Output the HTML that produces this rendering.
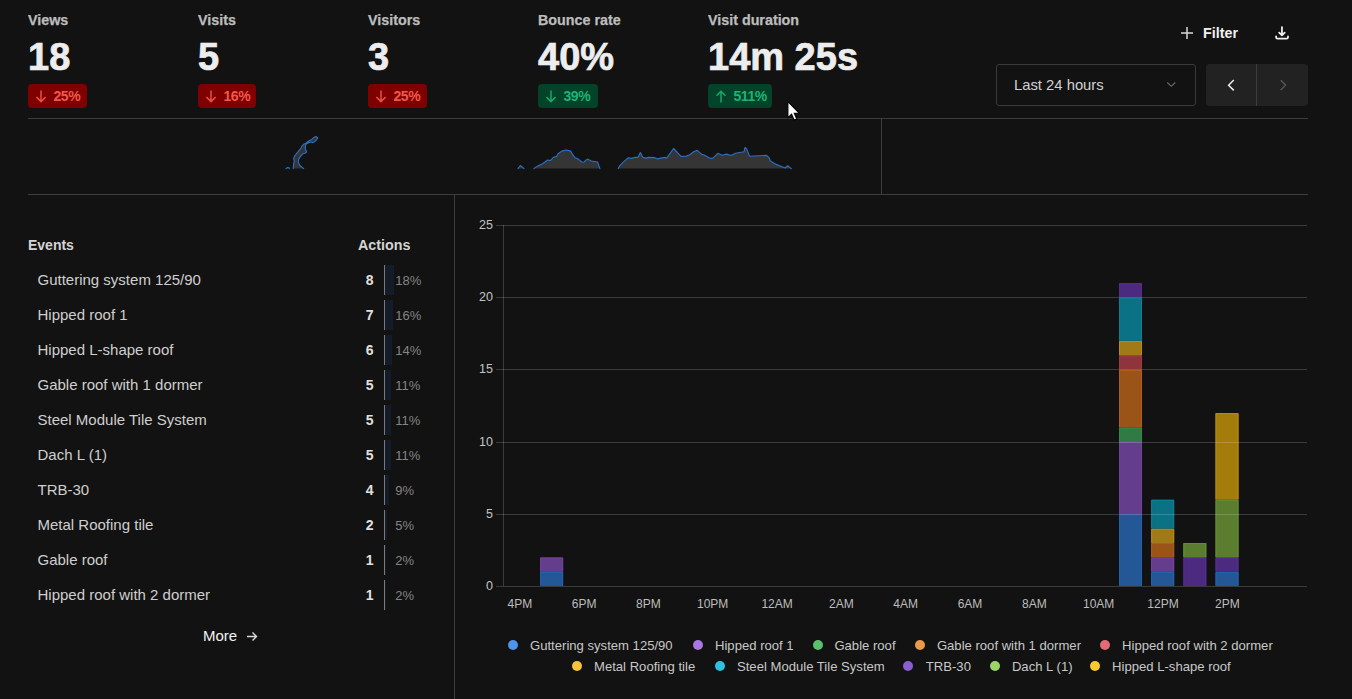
<!DOCTYPE html>
<html><head><meta charset="utf-8">
<style>
html,body{margin:0;padding:0;background:#121212;width:1352px;height:699px;overflow:hidden;}
body{font-family:"Liberation Sans",sans-serif;position:relative;color:#e5e5e5;}
.a{position:absolute;white-space:nowrap;}
.lbl{font-size:14.3px;font-weight:700;color:#bdbdbd;line-height:14px;-webkit-text-stroke:0.25px #bdbdbd;}
.val{font-size:38px;font-weight:700;color:#ededed;line-height:38px;-webkit-text-stroke:0.7px #ededed;}
.badge{position:absolute;top:84px;height:24px;border-radius:4px;}
.badge.r{background:#7f0000;color:#f0584a;}
.badge.g{background:#03432a;color:#1db374;}
.badge svg{position:absolute;top:5.6px;}
.badge span{position:absolute;top:5px;font-size:14px;font-weight:700;line-height:14px;letter-spacing:-0.45px;}
.hl{position:absolute;height:1px;background:#3d3d3d;}
.vl{position:absolute;width:1px;background:#3d3d3d;}
.ev{font-size:15px;color:#cfcfcf;line-height:15px;}
.num{font-size:14px;font-weight:700;color:#e0e0e0;line-height:14px;}
.pct{font-size:13px;color:#848484;line-height:13px;}
.bar{position:absolute;height:30px;background:#131c28;}
.bl{position:absolute;width:1px;height:30px;background:#7a7a7a;}
.yl{font-size:12.5px;color:#c4c4c4;line-height:13px;text-align:right;}
.xl{font-size:12px;color:#bdbdbd;line-height:12px;}
.lg{font-size:13.1px;color:#c8c8c8;line-height:13px;}
.dot{position:absolute;width:10px;height:10px;border-radius:50%;}
</style></head><body>

<!-- stats -->
<div class="a lbl" style="left:28px;top:13px">Views</div>
<div class="a lbl" style="left:198px;top:13px">Visits</div>
<div class="a lbl" style="left:368px;top:13px">Visitors</div>
<div class="a lbl" style="left:538px;top:13px">Bounce rate</div>
<div class="a lbl" style="left:708px;top:13px">Visit duration</div>

<div class="a val" style="left:28px;top:38.4px">18</div>
<div class="a val" style="left:198px;top:38.4px">5</div>
<div class="a val" style="left:368px;top:38.4px">3</div>
<div class="a val" style="left:538px;top:38.4px">40%</div>
<div class="a val" style="left:708px;top:38.4px">14m 25s</div>

<div class="badge r" style="left:28px;width:59px"><svg style="left:8px" width="10" height="13" viewBox="0 0 10 13"><path d="M5 0.6V11.6M0.5 7.1L5 11.6L9.5 7.1" fill="none" stroke="#e8503f" stroke-width="1.5"/></svg><span style="left:25.5px">25%</span></div>
<div class="badge r" style="left:198px;width:58px"><svg style="left:8px" width="10" height="13" viewBox="0 0 10 13"><path d="M5 0.6V11.6M0.5 7.1L5 11.6L9.5 7.1" fill="none" stroke="#e8503f" stroke-width="1.5"/></svg><span style="left:25.5px">16%</span></div>
<div class="badge r" style="left:368px;width:59px"><svg style="left:8px" width="10" height="13" viewBox="0 0 10 13"><path d="M5 0.6V11.6M0.5 7.1L5 11.6L9.5 7.1" fill="none" stroke="#e8503f" stroke-width="1.5"/></svg><span style="left:25.5px">25%</span></div>
<div class="badge g" style="left:538px;width:60px"><svg style="left:8px" width="10" height="13" viewBox="0 0 10 13"><path d="M5 0.6V11.6M0.5 7.1L5 11.6L9.5 7.1" fill="none" stroke="#17a86a" stroke-width="1.5"/></svg><span style="left:25.5px">39%</span></div>
<div class="badge g" style="left:708px;width:64px"><svg style="left:8px" width="10" height="13" viewBox="0 0 10 13"><path d="M5 12.4V1.2M0.5 5.7L5 1.2L9.5 5.7" fill="none" stroke="#17a86a" stroke-width="1.5"/></svg><span style="left:25.5px">511%</span></div>

<!-- filter / download -->
<svg class="a" style="left:1180px;top:26px" width="14" height="14" viewBox="0 0 14 14"><path d="M7 1V13M1 7H13" stroke="#d8d8d8" stroke-width="1.5" fill="none"/></svg>
<div class="a" style="left:1203px;top:26px;font-size:14.3px;font-weight:700;color:#f0f0f0;line-height:14px">Filter</div>
<svg class="a" style="left:1274px;top:25px" width="16" height="16" viewBox="0 0 16 16"><path d="M7.95 2.1V10.2M5.2 7.6L7.95 10.4L10.7 7.6M2.1 11.3V12.2Q2.1 13.7 3.6 13.7H12.5Q14 13.7 14 12.2V11.3" stroke="#f0f0f0" stroke-width="1.8" fill="none" stroke-linecap="round" stroke-linejoin="round"/></svg>

<!-- date dropdown -->
<div class="a" style="left:996px;top:64px;width:198px;height:40px;border:1px solid #3a3a3a;border-radius:3px;"></div>
<div class="a" style="left:1014px;top:78px;font-size:14.8px;color:#d2d2d2;line-height:15px">Last 24 hours</div>
<svg class="a" style="left:1166px;top:80px" width="11" height="8" viewBox="0 0 11 8"><path d="M1.3 2.5L5.3 6.3L9.3 2.5" stroke="#6c6c6c" stroke-width="1.1" fill="none"/></svg>

<div class="a" style="left:1206px;top:64px;width:102px;height:42px;background:#222;border-radius:4px;"></div>
<div class="vl" style="left:1256px;top:64px;height:42px;background:#3e3e3e"></div>
<svg class="a" style="left:1226px;top:78px" width="12" height="14" viewBox="0 0 12 14"><path d="M7.8 2L2.6 7.2L7.8 12.4" stroke="#ececec" stroke-width="1.5" fill="none"/></svg>
<svg class="a" style="left:1277.5px;top:78px" width="12" height="14" viewBox="0 0 12 14"><path d="M2.8 2.2L7.6 7.1L2.8 12" stroke="#595959" stroke-width="1.3" fill="none"/></svg>

<!-- dividers -->
<div class="hl" style="left:28px;top:118px;width:1280px"></div>
<div class="hl" style="left:28px;top:194px;width:1280px"></div>
<div class="vl" style="left:881px;top:119px;height:75px"></div>
<div class="vl" style="left:454px;top:195px;height:504px"></div>

<!-- sparkline -->
<svg class="a" style="left:0;top:0" width="881" height="194" viewBox="0 0 881 194">
<g fill="#353535" stroke="none"><path d="M286 168.6L287.7 167.5L289.2 167.8L289.4 168.6Z"/><path d="M293.2 168.6L293.7 164L294.3 161.2L293.7 158.6L294.6 156L296.9 153.2L299.2 150.3L301.5 147.5L301.7 146.3L303.7 144.3L306 143.2L307.2 142L309.5 140.6L311.8 139.4L314 137.4L316.3 136.6L317.8 138L316.9 139.4L314.6 141.7L312.9 142.6L310.6 142L308.3 142.9L306 144L305.2 146.9L305.5 149.2L306.6 152L304.9 153.2L302.6 154L300.3 156.6L298.6 159.5L298.3 162.3L299.7 165.2L302 167.2L303.7 168.6Z"/><path d="M518 168.6L520.4 165.5L524 168.6Z"/><path d="M533.8 168.6L537.7 165.9L542.5 163.7L547.7 160L550.3 160.6L553.6 157.2L556.6 156.4L558 153.7L561.8 151.1L566.2 150L570.6 151.1L572.1 153.7L575.1 157.8L578 158.9L582.1 162.2L584 162L587.3 159.1L591.4 161.1L597.6 162L599.9 168.6Z"/><path d="M618.3 168.6L619.6 165.9L623.3 162.2L628.1 157.8L631.4 158.4L635.1 157.4L638.1 157.4L640.3 152.6L642.9 157.4L646.2 158.1L648.5 157.4L654.4 157.6L657.3 158.9L661 158.1L664.7 157.4L666.6 158.1L673.6 148.5L681 156.4L686.2 156.1L689.9 154.8L693.6 151.8L697.3 150.4L701.7 154.4L703.6 154.8L709.1 157.8L711.1 158.4L712.9 158.1L717.8 153.3L722.2 155.2L726.6 154.1L731.1 155.5L735.5 153.3L744 151.8L745.1 147.4L746.6 148.9L749.6 156.3L766.6 155.4L769.2 157.8L770.3 161.1L776.2 164.4L785.1 168L787.6 165.8L791.3 168.6Z"/></g><g fill="none" stroke="#2b6fc6" stroke-width="1.15" stroke-linejoin="round" stroke-linecap="round"><path d="M286 168.6L287.7 167.5L289.2 167.8L289.4 168.6"/><path d="M293.2 168.6L293.7 164L294.3 161.2L293.7 158.6L294.6 156L296.9 153.2L299.2 150.3L301.5 147.5L301.7 146.3L303.7 144.3L306 143.2L307.2 142L309.5 140.6L311.8 139.4L314 137.4L316.3 136.6L317.8 138L316.9 139.4L314.6 141.7L312.9 142.6L310.6 142L308.3 142.9L306 144L305.2 146.9L305.5 149.2L306.6 152L304.9 153.2L302.6 154L300.3 156.6L298.6 159.5L298.3 162.3L299.7 165.2L302 167.2L303.7 168.6"/><path d="M518 168.6L520.4 165.5L524 168.6"/><path d="M533.8 168.6L537.7 165.9L542.5 163.7L547.7 160L550.3 160.6L553.6 157.2L556.6 156.4L558 153.7L561.8 151.1L566.2 150L570.6 151.1L572.1 153.7L575.1 157.8L578 158.9L582.1 162.2L584 162L587.3 159.1L591.4 161.1L597.6 162L599.9 168.6"/><path d="M618.3 168.6L619.6 165.9L623.3 162.2L628.1 157.8L631.4 158.4L635.1 157.4L638.1 157.4L640.3 152.6L642.9 157.4L646.2 158.1L648.5 157.4L654.4 157.6L657.3 158.9L661 158.1L664.7 157.4L666.6 158.1L673.6 148.5L681 156.4L686.2 156.1L689.9 154.8L693.6 151.8L697.3 150.4L701.7 154.4L703.6 154.8L709.1 157.8L711.1 158.4L712.9 158.1L717.8 153.3L722.2 155.2L726.6 154.1L731.1 155.5L735.5 153.3L744 151.8L745.1 147.4L746.6 148.9L749.6 156.3L766.6 155.4L769.2 157.8L770.3 161.1L776.2 164.4L785.1 168L787.6 165.8L791.3 168.6"/></g>
</svg>

<!-- events table -->
<div class="a" style="left:28px;top:238px;font-size:14px;font-weight:700;color:#d4d4d4;line-height:14px">Events</div>
<div class="a" style="left:358px;top:238px;font-size:14.3px;font-weight:700;color:#d4d4d4;line-height:14px">Actions</div>

<div class="a ev" style="left:37.5px;top:272px">Guttering system 125/90</div>
<div class="a num" style="left:344px;width:29.6px;text-align:right;top:273px">8</div>
<div class="bl" style="left:384px;top:265px"></div>
<div class="bar" style="left:385px;top:265px;width:8.7px"></div>
<div class="a pct" style="left:395.3px;top:274px">18%</div>
<div class="a ev" style="left:37.5px;top:307px">Hipped roof 1</div>
<div class="a num" style="left:344px;width:29.6px;text-align:right;top:308px">7</div>
<div class="bl" style="left:384px;top:300px"></div>
<div class="bar" style="left:385px;top:300px;width:7.6px"></div>
<div class="a pct" style="left:395.3px;top:309px">16%</div>
<div class="a ev" style="left:37.5px;top:342px">Hipped L-shape roof</div>
<div class="a num" style="left:344px;width:29.6px;text-align:right;top:343px">6</div>
<div class="bl" style="left:384px;top:335px"></div>
<div class="bar" style="left:385px;top:335px;width:6.6px"></div>
<div class="a pct" style="left:395.3px;top:344px">14%</div>
<div class="a ev" style="left:37.5px;top:377px">Gable roof with 1 dormer</div>
<div class="a num" style="left:344px;width:29.6px;text-align:right;top:378px">5</div>
<div class="bl" style="left:384px;top:370px"></div>
<div class="bar" style="left:385px;top:370px;width:5.5px"></div>
<div class="a pct" style="left:395.3px;top:379px">11%</div>
<div class="a ev" style="left:37.5px;top:412px">Steel Module Tile System</div>
<div class="a num" style="left:344px;width:29.6px;text-align:right;top:413px">5</div>
<div class="bl" style="left:384px;top:405px"></div>
<div class="bar" style="left:385px;top:405px;width:5.5px"></div>
<div class="a pct" style="left:395.3px;top:414px">11%</div>
<div class="a ev" style="left:37.5px;top:447px">Dach L (1)</div>
<div class="a num" style="left:344px;width:29.6px;text-align:right;top:448px">5</div>
<div class="bl" style="left:384px;top:440px"></div>
<div class="bar" style="left:385px;top:440px;width:5.5px"></div>
<div class="a pct" style="left:395.3px;top:449px">11%</div>
<div class="a ev" style="left:37.5px;top:482px">TRB-30</div>
<div class="a num" style="left:344px;width:29.6px;text-align:right;top:483px">4</div>
<div class="bl" style="left:384px;top:475px"></div>
<div class="bar" style="left:385px;top:475px;width:4.4px"></div>
<div class="a pct" style="left:395.3px;top:484px">9%</div>
<div class="a ev" style="left:37.5px;top:517px">Metal Roofing tile</div>
<div class="a num" style="left:344px;width:29.6px;text-align:right;top:518px">2</div>
<div class="bl" style="left:384px;top:510px"></div>
<div class="bar" style="left:385px;top:510px;width:2.2px"></div>
<div class="a pct" style="left:395.3px;top:519px">5%</div>
<div class="a ev" style="left:37.5px;top:552px">Gable roof</div>
<div class="a num" style="left:344px;width:29.6px;text-align:right;top:553px">1</div>
<div class="bl" style="left:384px;top:545px"></div>
<div class="bar" style="left:385px;top:545px;width:0.9px"></div>
<div class="a pct" style="left:395.3px;top:554px">2%</div>
<div class="a ev" style="left:37.5px;top:587px">Hipped roof with 2 dormer</div>
<div class="a num" style="left:344px;width:29.6px;text-align:right;top:588px">1</div>
<div class="bl" style="left:384px;top:580px"></div>
<div class="bar" style="left:385px;top:580px;width:0.9px"></div>
<div class="a pct" style="left:395.3px;top:589px">2%</div>

<div class="a" style="left:203px;top:628px;font-size:15px;color:#f2f2f2;line-height:15px">More</div>
<svg class="a" style="left:246px;top:631px" width="12" height="11" viewBox="0 0 12 11"><path d="M1 5.5H10.5M6.5 1.5L10.5 5.5L6.5 9.5" stroke="#d8d8d8" stroke-width="1.4" fill="none"/></svg>

<!-- chart -->
<svg class="a" style="left:455px;top:195px" width="897" height="504" viewBox="455 195 897 504">
<text x="493" y="589.6" text-anchor="end" font-size="12.5" fill="#c4c4c4" font-family="Liberation Sans">0</text>
<text x="493" y="517.6" text-anchor="end" font-size="12.5" fill="#c4c4c4" font-family="Liberation Sans">5</text>
<text x="493" y="445.6" text-anchor="end" font-size="12.5" fill="#c4c4c4" font-family="Liberation Sans">10</text>
<text x="493" y="372.6" text-anchor="end" font-size="12.5" fill="#c4c4c4" font-family="Liberation Sans">15</text>
<text x="493" y="300.6" text-anchor="end" font-size="12.5" fill="#c4c4c4" font-family="Liberation Sans">20</text>
<text x="493" y="228.6" text-anchor="end" font-size="12.5" fill="#c4c4c4" font-family="Liberation Sans">25</text>
<rect x="503" y="225" width="1" height="361" fill="#3b3b3b"/>
<text x="519.8" y="608" text-anchor="middle" font-size="12" fill="#bdbdbd" font-family="Liberation Sans">4PM</text>
<text x="584.1" y="608" text-anchor="middle" font-size="12" fill="#bdbdbd" font-family="Liberation Sans">6PM</text>
<text x="648.4" y="608" text-anchor="middle" font-size="12" fill="#bdbdbd" font-family="Liberation Sans">8PM</text>
<text x="712.7" y="608" text-anchor="middle" font-size="12" fill="#bdbdbd" font-family="Liberation Sans">10PM</text>
<text x="777.1" y="608" text-anchor="middle" font-size="12" fill="#bdbdbd" font-family="Liberation Sans">12AM</text>
<text x="841.4" y="608" text-anchor="middle" font-size="12" fill="#bdbdbd" font-family="Liberation Sans">2AM</text>
<text x="905.7" y="608" text-anchor="middle" font-size="12" fill="#bdbdbd" font-family="Liberation Sans">4AM</text>
<text x="970.0" y="608" text-anchor="middle" font-size="12" fill="#bdbdbd" font-family="Liberation Sans">6AM</text>
<text x="1034.3" y="608" text-anchor="middle" font-size="12" fill="#bdbdbd" font-family="Liberation Sans">8AM</text>
<text x="1098.7" y="608" text-anchor="middle" font-size="12" fill="#bdbdbd" font-family="Liberation Sans">10AM</text>
<text x="1163.0" y="608" text-anchor="middle" font-size="12" fill="#bdbdbd" font-family="Liberation Sans">12PM</text>
<text x="1227.3" y="608" text-anchor="middle" font-size="12" fill="#bdbdbd" font-family="Liberation Sans">2PM</text>
<rect x="540.14" y="571.96" width="23" height="14.04" fill="#235796"/>
<path d="M540.64 585.50V572.46H562.64V585.50" fill="none" stroke="#2662ac" stroke-width="1"/>
<rect x="540.14" y="557.52" width="23" height="14.44" fill="#643d8c"/>
<path d="M540.64 571.46V558.02H562.64V571.46" fill="none" stroke="#7244a0" stroke-width="1"/>
<rect x="1119.02" y="514.20" width="23" height="71.80" fill="#235796"/>
<path d="M1119.52 585.50V514.70H1141.52V585.50" fill="none" stroke="#2662ac" stroke-width="1"/>
<rect x="1119.02" y="442.00" width="23" height="72.20" fill="#643d8c"/>
<path d="M1119.52 513.70V442.50H1141.52V513.70" fill="none" stroke="#7244a0" stroke-width="1"/>
<rect x="1119.02" y="427.56" width="23" height="14.44" fill="#2f7a45"/>
<path d="M1119.52 441.50V428.06H1141.52V441.50" fill="none" stroke="#348b4e" stroke-width="1"/>
<rect x="1119.02" y="369.80" width="23" height="57.76" fill="#9a5418"/>
<path d="M1119.52 427.06V370.30H1141.52V427.06" fill="none" stroke="#b15f19" stroke-width="1"/>
<rect x="1119.02" y="355.36" width="23" height="14.44" fill="#8f343d"/>
<path d="M1119.52 369.30V355.86H1141.52V369.30" fill="none" stroke="#a43a44" stroke-width="1"/>
<rect x="1119.02" y="340.92" width="23" height="14.44" fill="#a07a16"/>
<path d="M1119.52 354.86V341.42H1141.52V354.86" fill="none" stroke="#b88b17" stroke-width="1"/>
<rect x="1119.02" y="297.60" width="23" height="43.32" fill="#0b7286"/>
<path d="M1119.52 340.42V298.10H1141.52V340.42" fill="none" stroke="#0a8299" stroke-width="1"/>
<rect x="1119.02" y="283.16" width="23" height="14.44" fill="#4c2a80"/>
<path d="M1119.52 297.10V283.66H1141.52V297.10" fill="none" stroke="#562e92" stroke-width="1"/>
<rect x="1151.18" y="571.96" width="23" height="14.04" fill="#235796"/>
<path d="M1151.68 585.50V572.46H1173.68V585.50" fill="none" stroke="#2662ac" stroke-width="1"/>
<rect x="1151.18" y="557.52" width="23" height="14.44" fill="#643d8c"/>
<path d="M1151.68 571.46V558.02H1173.68V571.46" fill="none" stroke="#7244a0" stroke-width="1"/>
<rect x="1151.18" y="543.08" width="23" height="14.44" fill="#9a5418"/>
<path d="M1151.68 557.02V543.58H1173.68V557.02" fill="none" stroke="#b15f19" stroke-width="1"/>
<rect x="1151.18" y="528.64" width="23" height="14.44" fill="#a07a16"/>
<path d="M1151.68 542.58V529.14H1173.68V542.58" fill="none" stroke="#b88b17" stroke-width="1"/>
<rect x="1151.18" y="499.76" width="23" height="28.88" fill="#0b7286"/>
<path d="M1151.68 528.14V500.26H1173.68V528.14" fill="none" stroke="#0a8299" stroke-width="1"/>
<rect x="1183.34" y="557.52" width="23" height="28.48" fill="#4c2a80"/>
<path d="M1183.84 585.50V558.02H1205.84V585.50" fill="none" stroke="#562e92" stroke-width="1"/>
<rect x="1183.34" y="543.08" width="23" height="14.44" fill="#5a7d30"/>
<path d="M1183.84 557.02V543.58H1205.84V557.02" fill="none" stroke="#668f35" stroke-width="1"/>
<rect x="1215.50" y="571.96" width="23" height="14.04" fill="#235796"/>
<path d="M1216.00 585.50V572.46H1238.00V585.50" fill="none" stroke="#2662ac" stroke-width="1"/>
<rect x="1215.50" y="557.52" width="23" height="14.44" fill="#4c2a80"/>
<path d="M1216.00 571.46V558.02H1238.00V571.46" fill="none" stroke="#562e92" stroke-width="1"/>
<rect x="1215.50" y="499.76" width="23" height="57.76" fill="#5a7d30"/>
<path d="M1216.00 557.02V500.26H1238.00V557.02" fill="none" stroke="#668f35" stroke-width="1"/>
<rect x="1215.50" y="413.12" width="23" height="86.64" fill="#a37c0c"/>
<path d="M1216.00 499.26V413.62H1238.00V499.26" fill="none" stroke="#b88e0b" stroke-width="1"/>
<rect x="496" y="586" width="811" height="1" fill="#ffffff" fill-opacity="0.173"/>
<rect x="496" y="514" width="811" height="1" fill="#ffffff" fill-opacity="0.173"/>
<rect x="496" y="442" width="811" height="1" fill="#ffffff" fill-opacity="0.173"/>
<rect x="496" y="369" width="811" height="1" fill="#ffffff" fill-opacity="0.173"/>
<rect x="496" y="297" width="811" height="1" fill="#ffffff" fill-opacity="0.173"/>
<rect x="496" y="225" width="811" height="1" fill="#ffffff" fill-opacity="0.173"/>
</svg>

<div class="dot" style="left:508.0px;top:640px;background:#4f94e8"></div>
<div class="a lg" style="left:530.0px;top:639px">Guttering system 125/90</div>
<div class="dot" style="left:692.5px;top:640px;background:#a877e0"></div>
<div class="a lg" style="left:715.0px;top:639px">Hipped roof 1</div>
<div class="dot" style="left:812.7px;top:640px;background:#5cbf6e"></div>
<div class="a lg" style="left:834.4px;top:639px">Gable roof</div>
<div class="dot" style="left:914.8px;top:640px;background:#eb9a4a"></div>
<div class="a lg" style="left:936.9px;top:639px">Gable roof with 1 dormer</div>
<div class="dot" style="left:1099.8px;top:640px;background:#e36b76"></div>
<div class="a lg" style="left:1122.1px;top:639px">Hipped roof with 2 dormer</div>
<div class="dot" style="left:572.0px;top:661px;background:#f7c23c"></div>
<div class="a lg" style="left:594.0px;top:660px">Metal Roofing tile</div>
<div class="dot" style="left:715.0px;top:661px;background:#2ec0dc"></div>
<div class="a lg" style="left:737.0px;top:660px">Steel Module Tile System</div>
<div class="dot" style="left:902.6px;top:661px;background:#8a60d0"></div>
<div class="a lg" style="left:925.8px;top:660px">TRB-30</div>
<div class="dot" style="left:989.6px;top:661px;background:#9cd36a"></div>
<div class="a lg" style="left:1011.9px;top:660px">Dach L (1)</div>
<div class="dot" style="left:1090.0px;top:661px;background:#f9c930"></div>
<div class="a lg" style="left:1112.1px;top:660px">Hipped L-shape roof</div>
<svg class="a" style="left:787px;top:101px" width="14" height="21" viewBox="0 0 14 21"><path d="M0.9 0.6L0.9 16.6L4.6 13.2L7.1 19L9.7 17.9L7.3 12.2L12.2 12.2Z" fill="#fff" stroke="#000" stroke-width="1.1" stroke-linejoin="miter"/></svg>
</body></html>
